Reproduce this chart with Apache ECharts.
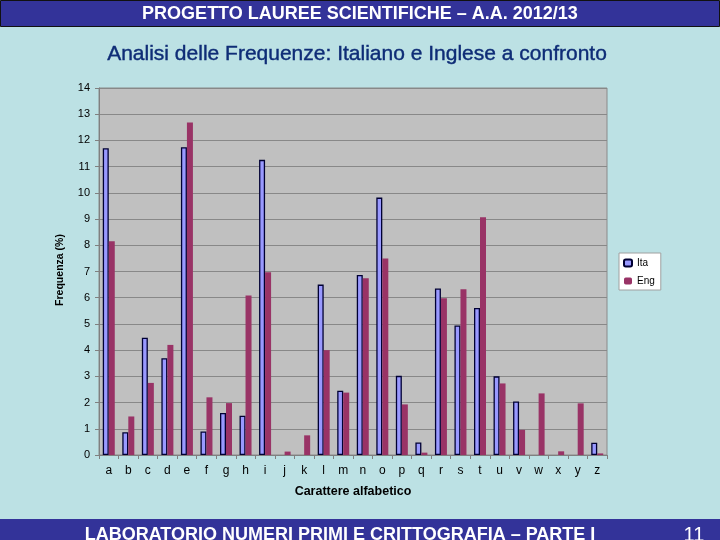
<!DOCTYPE html>
<html><head><meta charset="utf-8">
<script src="https://cdn.jsdelivr.net/npm/echarts@6/dist/echarts.min.js"></script>
<style>html,body{margin:0;padding:0;background:#BCE1E4;}#c{width:720px;height:540px;}</style>
</head><body><div id="c"></div>
<script>
const categories = ['a','b','c','d','e','f','g','h','i','j','k','l','m','n','o','p','q','r','s','t','u','v','w','x','y','z'];
const ita = [11.7,0.87,4.47,3.69,11.74,0.9,1.6,1.5,11.26,0,0,6.5,2.45,6.87,9.82,3.02,0.48,6.35,4.94,5.61,3.0,2.04,0,0,0,0.47];
const eng = [8.15,1.47,2.75,4.2,12.68,2.2,1.98,6.08,6.97,0.13,0.75,4.0,2.38,6.74,7.5,1.93,0.09,5.98,6.32,9.07,2.73,0.96,2.35,0.14,1.97,0.06];
const yTicks = {min:0, max:14, interval:1};
const seriesNames = ['Ita','Eng'];
const titleTop = 'PROGETTO LAUREE SCIENTIFICHE \u2013 A.A. 2012/13';
const subtitle = 'Analisi delle Frequenze: Italiano e Inglese a confronto';
const footer = 'LABORATORIO NUMERI PRIMI E CRITTOGRAFIA \u2013 PARTE I';
const pageNo = '11';

const chart = echarts.init(document.getElementById('c'), null, {renderer:'canvas'});
const F = 'Liberation Sans, Arial, sans-serif';
const noZero = arr => arr.map(v => v === 0 ? null : v);
chart.setOption({
  backgroundColor: '#BCE1E4',
  animation: false,
  graphic: [
    {type:'rect', shape:{x:0.5,y:0.5,width:719,height:26}, style:{fill:'#333399', stroke:'#111', lineWidth:1}},
    {type:'text', x:360, y:14, style:{text:titleTop, fill:'#fff', font:'bold 18px '+F, align:'center', verticalAlign:'middle'}},
    {type:'text', x:357, y:54, style:{text:subtitle, fill:'#0E2C76', font:'21px '+F, align:'center', verticalAlign:'middle', stroke:'#0E2C76', lineWidth:0.4}},
    {type:'rect', shape:{x:0,y:519,width:720,height:21}, style:{fill:'#333399'}},
    {type:'text', x:340, y:535, style:{text:footer, fill:'#fff', font:'bold 18px '+F, align:'center', verticalAlign:'middle'}},
    {type:'text', x:694, y:535, style:{text:pageNo, fill:'#fff', font:'20px '+F, align:'center', verticalAlign:'middle'}},
    {type:'text', x:60, y:270, rotation:Math.PI/2, style:{text:'Frequenza (%)', fill:'#000', font:'bold 10.5px '+F, align:'center', verticalAlign:'middle'}}
  ],
  grid: {left:99, top:88, width:508, height:367, show:true, backgroundColor:'#C0C0C0', borderColor:'#8A8A8A', borderWidth:1},
  legend: {
    data: seriesNames, orient:'vertical', left:619, top:253,
    backgroundColor:'#fff', borderColor:'#A0A0A0', borderWidth:1, padding:[5,6,4,4],
    itemWidth:8, itemHeight:7, itemGap:8,
    textStyle:{fontFamily:F, fontSize:10, color:'#000'}
  },
  xAxis: {
    type:'category', data:categories,
    name:'Carattere alfabetico', nameLocation:'middle', nameGap:30,
    nameTextStyle:{fontFamily:F, fontWeight:'bold', fontSize:12.5, color:'#000'},
    axisLine:{lineStyle:{color:'#808080'}},
    axisTick:{show:true, length:4, lineStyle:{color:'#808080'}},
    axisLabel:{fontFamily:F, fontSize:12, color:'#000', margin:10}
  },
  yAxis: {
    type:'value', min:yTicks.min, max:yTicks.max, interval:yTicks.interval,
    axisLine:{show:true, lineStyle:{color:'#808080'}},
    axisTick:{show:true, length:4, lineStyle:{color:'#808080'}},
    splitLine:{lineStyle:{color:'#888888', width:1}},
    axisLabel:{fontFamily:F, fontSize:11, color:'#000', margin:9}
  },
  series: [
    {name:seriesNames[0], type:'bar', data:noZero(ita), barWidth:6, barGap:'0%',
     itemStyle:{color:'#9999FF', borderColor:'#000033', borderWidth:1.3}},
    {name:seriesNames[1], type:'bar', data:noZero(eng), barWidth:6, barGap:'0%',
     itemStyle:{color:'#993366'}}
  ]
});
</script></body></html>
